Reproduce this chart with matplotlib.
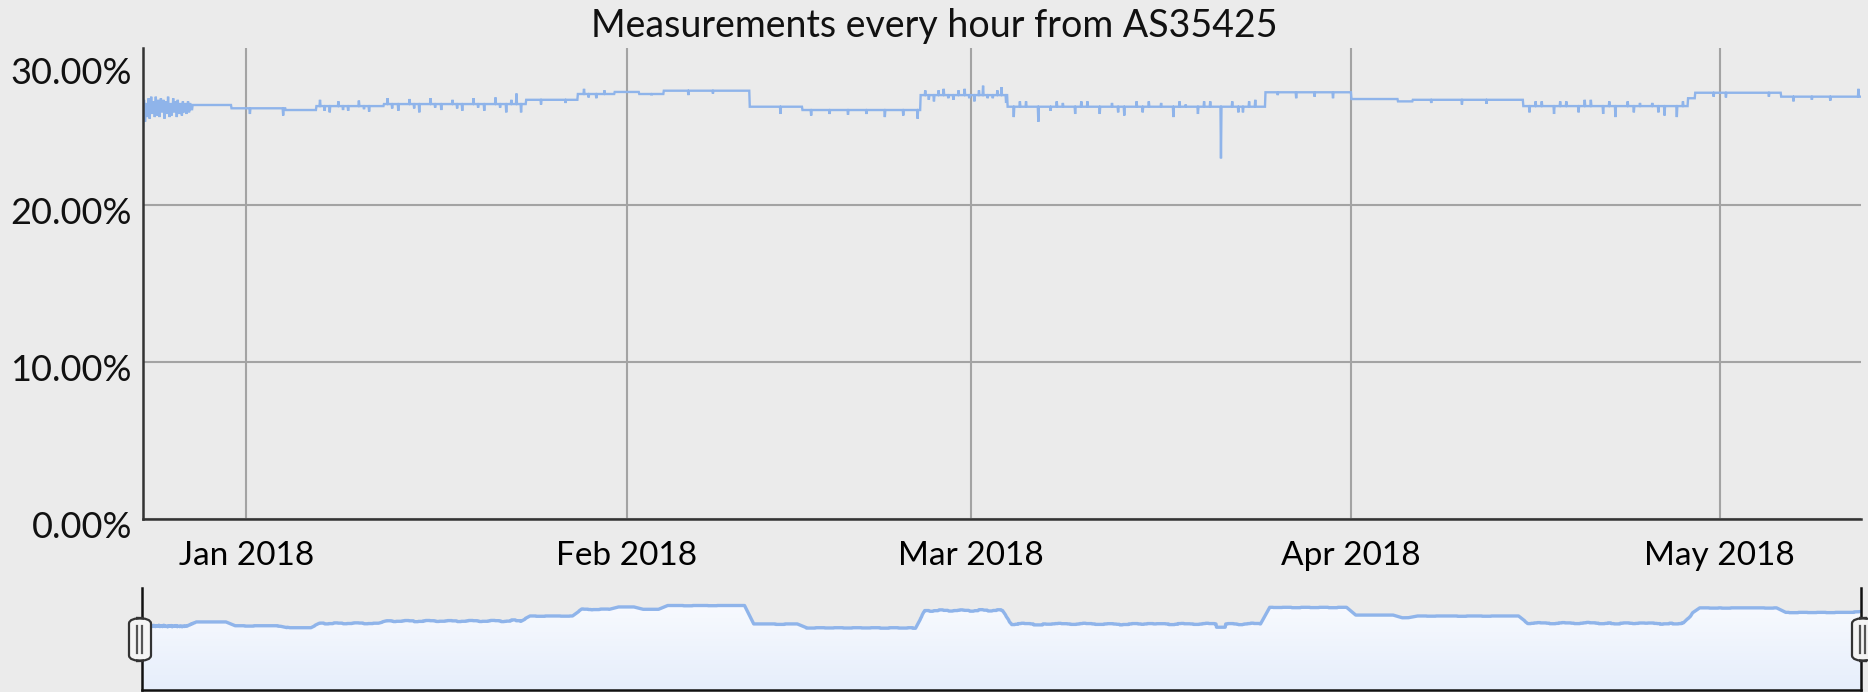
import numpy as np
import pandas as pd
import matplotlib.pyplot as plt
import matplotlib.dates as mdates
from matplotlib.patches import FancyBboxPatch
from matplotlib.colors import LinearSegmentedColormap

plt.rcParams['font.family'] = ['Lato', 'DejaVu Sans']

# Dados (dias contados a partir de 2018-01-01)
inicio = np.datetime64('2018-01-01T00:00')
dia_ini, dia_fim = -8.4, 131.5

# degraus do nivel (dia de inicio, valor em %)
degrau_dias = [-8.4, -4.4, -1.2, 3.2, 5.7, 11.2, 22.8, 27.0, 30.0, 32.0, 34.0,
               41.0, 45.3, 54.9, 62.0, 83.0, 90.0, 93.8, 95.0, 104.0, 117.4,
               118.0, 125.0]
degrau_vals = [26.1, 26.37, 26.16, 26.05, 26.3, 26.43, 26.7, 27.07, 27.2, 27.07, 27.28,
               26.26, 26.05, 27.0, 26.26, 27.18, 26.75, 26.6, 26.7, 26.3, 26.8,
               27.15, 26.9]

# picos isolados (dia, valor em %)
pico_dias = [-8.38, -8.3, -8.22, -8.15, -8.05, -7.95, -7.85, -7.75, -7.65, -7.55,
             -7.45, -7.35, -7.25, -7.15, -7.05, -6.95, -6.85, -6.75, -6.65, -6.55,
             -6.45, -6.35, -6.25, -6.15, -6.05, -5.95, -5.85, -5.75, -5.65, -5.55,
             -5.45, -5.35, -5.25, -5.15, -5.05, -4.95, -4.85, -4.75, -4.65, -4.55,
             0.3, 3.0,
             6.0, 6.4, 6.8, 7.5, 7.9, 8.3, 9.2, 9.6, 10.0, 11.5, 11.9, 12.4, 13.3,
             13.7, 14.1, 15.0, 15.4, 15.9, 16.8, 17.2, 17.6, 18.5, 18.9, 19.4,
             20.3, 20.7, 21.2, 21.6, 22.0, 22.4, 24.0, 26.0, 27.5, 27.9, 28.5, 29.2,
             33.0, 36.0, 38.0,
             43.5, 46.0, 47.5, 49.0, 50.5, 52.0, 53.5, 54.7,
             55.3, 55.6, 56.0, 56.4, 56.8, 57.2, 57.6, 58.0, 58.5, 58.9, 59.3,
             59.7, 60.0, 60.4, 60.8, 61.2, 61.5, 61.9,
             62.5, 63.0, 63.5, 64.5, 65.5, 66.0, 66.5, 67.5, 68.0, 68.5, 69.5,
             70.5, 71.0, 71.5, 72.5, 73.0, 73.5, 74.5, 75.5, 76.0, 76.5, 77.5,
             78.0, 78.5, 79.4, 80.3, 80.8, 81.2, 81.7, 82.2,
             84.0, 85.5, 87.0, 88.5, 96.5, 99.0, 101.0,
             104.5, 105.0, 105.5, 106.5, 107.0, 107.5, 108.5, 109.0, 109.5, 110.5,
             111.0, 111.5, 112.5, 113.0, 113.5, 114.5, 115.0, 115.5, 116.5, 117.0,
             119.5, 120.5, 124.0, 126.0, 127.5, 129.0, 131.3]
pico_vals = [25.0, 26.7, 25.3, 26.5, 25.6, 26.8, 25.5, 26.9, 25.8, 26.6,
             25.6, 26.9, 25.7, 26.7, 25.6, 26.8, 25.9, 26.7, 25.5, 26.6,
             25.8, 26.9, 25.6, 26.5, 25.7, 26.8, 25.9, 26.6, 25.6, 26.7,
             25.8, 26.5, 25.7, 26.6, 25.9, 26.5, 25.8, 26.6, 25.9, 26.5,
             25.8, 25.7,
             26.7, 26.0, 25.9, 26.6, 26.05, 26.0, 26.65, 26.1, 25.95, 26.8, 26.15, 26.0, 26.75,
             26.15, 25.9, 26.8, 26.2, 26.05, 26.7, 26.15, 26.0, 26.8, 26.2, 26.0,
             26.85, 26.2, 25.9, 26.7, 27.1, 25.9, 26.4, 26.5, 27.4, 26.85, 26.8, 27.3,
             27.0, 27.0, 27.1,
             25.8, 25.7, 25.8, 25.75, 25.8, 25.6, 25.7, 25.5,
             27.3, 26.7, 26.6, 27.3, 27.4, 26.8, 26.7, 27.3, 27.4, 26.8, 26.6,
             27.3, 27.6, 26.8, 26.8, 27.3, 27.5, 26.5,
             25.6, 26.6, 26.6, 25.3, 26.0, 26.6, 26.5, 25.8, 26.6, 26.6, 25.8,
             26.5, 25.9, 25.7, 26.6, 25.9, 26.6, 26.5, 25.6, 26.6, 26.4, 25.8,
             26.6, 26.6, 22.97, 26.6, 25.9, 25.9, 26.6, 26.7,
             27.0, 26.8, 26.9, 26.8, 26.5, 26.4, 26.45,
             25.9, 26.6, 26.6, 25.8, 26.6, 26.6, 25.9, 26.7, 26.7, 25.8,
             26.6, 25.6, 26.6, 25.9, 26.5, 26.5, 25.9, 25.7, 25.6, 26.6,
             26.9, 26.85, 26.9, 26.6, 26.7, 26.65, 27.4]

y_ticks = [0, 10, 20, 30]
meses = ['2018-01-01', '2018-02-01', '2018-03-01', '2018-04-01', '2018-05-01']
titulo = 'Measurements every hour from AS35425'

# serie horaria
horas = np.arange(dia_ini * 24, dia_fim * 24 + 1, 1.0)
idx = np.searchsorted(degrau_dias, horas / 24, side='right') - 1
valores = np.array(degrau_vals)[np.clip(idx, 0, None)]
for d, v in zip(pico_dias, pico_vals):
    k = int(round(d * 24 - horas[0]))
    valores[k] = v
tempos = inicio + (horas * 60).astype('timedelta64[m]')
t_num = mdates.date2num(tempos)
# o seletor mostra a serie suavizada
suave = pd.Series(valores).rolling(18, center=True, min_periods=1).mean().values

fundo = '#ebebeb'
azul = '#8fb4ea'
W, H = 1868, 692

fig = plt.figure(figsize=(W / 100, H / 100), dpi=100, facecolor=fundo)

# grafico principal
ax = fig.add_axes([143 / W, 1 - 519 / H, (1861 - 143) / W, (519 - 48) / H])
ax.set_facecolor(fundo)
ax.plot(t_num, valores, color=azul, lw=1.7, solid_joinstyle='miter')
ax.set_xlim(t_num[0], t_num[-1])
ax.set_ylim(0, 30)
for s in ['top', 'right']:
    ax.spines[s].set_visible(False)
for s in ['left', 'bottom']:
    ax.spines[s].set_color('#333333')
    ax.spines[s].set_linewidth(1.8)
ax.set_xticks(mdates.date2num(np.array(meses, dtype='datetime64[D]')))
ax.xaxis.set_major_formatter(mdates.DateFormatter('%b %Y'))
ax.set_yticks(y_ticks)
ax.set_yticklabels([])
ax.tick_params(length=0, labelsize=24, pad=16)
ax.grid(True, color='#a3a3a3', lw=1.5)
ax.get_ygridlines()[-1].set_visible(False)
ax.set_axisbelow(True)
for v in y_ticks:
    dy = -18 if v == 30 else -6
    ax.annotate('%.2f%%' % v, xy=(0, v), xycoords=('axes fraction', 'data'),
                xytext=(-8, dy), textcoords='offset points', ha='right', va='center',
                fontsize=26, color='#111111', annotation_clip=False)
fig.text(0.5, 1 - 26 / H, titulo, ha='center', va='center', fontsize=27, color='#111111')

# seletor de intervalo
ax2 = fig.add_axes([142 / W, 2 / H, (1861 - 142) / W, 102 / H])
ax2.set_facecolor('none')
ax2.set_xlim(t_num[0], t_num[-1])
ax2.set_ylim(22.6, 28.25)
poly = ax2.fill_between(t_num, suave, 0, color='none')
grad = np.linspace(0, 1, 100).reshape(-1, 1)
cmap = LinearSegmentedColormap.from_list('g', ['#e6eefb', '#fbfcff'])
img = ax2.imshow(grad, aspect='auto', cmap=cmap, origin='lower',
                 extent=[t_num[0], t_num[-1], 22.6, 28.25], zorder=1)
img.set_clip_path(poly.get_paths()[0], transform=ax2.transData)
ax2.plot(t_num, suave, color=azul, lw=2.4, zorder=2)
ax2.set_xticks([])
ax2.set_yticks([])
for s in ['top', 'right']:
    ax2.spines[s].set_visible(False)
for s in ['left', 'bottom']:
    ax2.spines[s].set_color('#111111')
    ax2.spines[s].set_linewidth(1.8)
ax2.plot([1, 1], [0, 1], transform=ax2.transAxes, color='#111111', lw=1.8, clip_on=False)

# alcas
for x0 in [129, 1852]:
    alca = FancyBboxPatch((x0 / W, 1 - 661 / H), 22 / W, 43 / H,
                          boxstyle='round,pad=0,rounding_size=0.008',
                          transform=fig.transFigure, facecolor='#f4f4f4',
                          edgecolor='#333333', lw=1.6, zorder=5)
    fig.patches.append(alca)
    for dx in [8, 13]:
        fig.lines.append(plt.Line2D([(x0 + dx) / W] * 2, [1 - 653 / H, 1 - 626 / H],
                                    transform=fig.transFigure, color='#555555', lw=1.6,
                                    zorder=6))

fig.savefig('out.png', dpi=100, facecolor=fundo)
